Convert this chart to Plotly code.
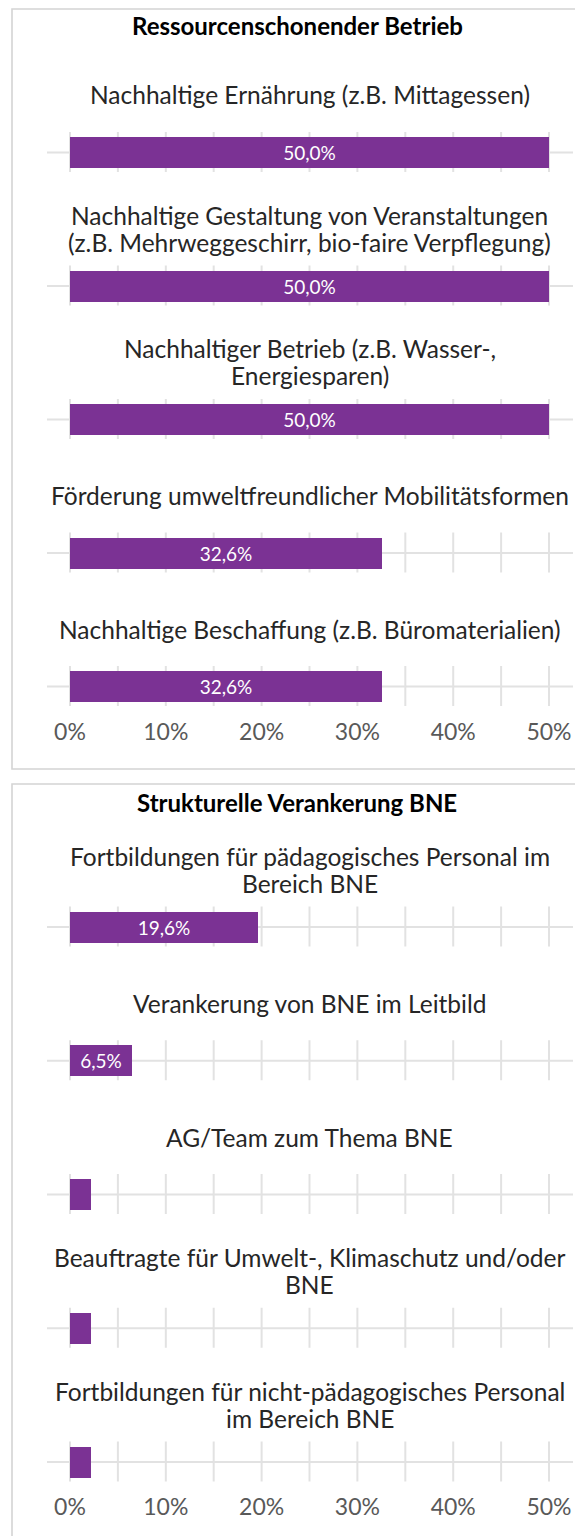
import plotly.graph_objects as go

# ---------------- data ----------------
panel1_title = "Ressourcenschonender Betrieb"
panel1_categories = [
    "Nachhaltige Ernährung (z.B. Mittagessen)",
    "Nachhaltige Gestaltung von Veranstaltungen\n(z.B. Mehrweggeschirr, bio-faire Verpflegung)",
    "Nachhaltiger Betrieb (z.B. Wasser-,\nEnergiesparen)",
    "Förderung umweltfreundlicher Mobilitätsformen",
    "Nachhaltige Beschaffung (z.B. Büromaterialien)",
]
panel1_values = [50.0, 50.0, 50.0, 32.6, 32.6]

panel2_title = "Strukturelle Verankerung BNE"
panel2_categories = [
    "Fortbildungen für pädagogisches Personal im\nBereich BNE",
    "Verankerung von BNE im Leitbild",
    "AG/Team zum Thema BNE",
    "Beauftragte für Umwelt-, Klimaschutz und/oder\nBNE",
    "Fortbildungen für nicht-pädagogisches Personal\nim Bereich BNE",
]
panel2_values = [19.6, 6.5, 2.2, 2.2, 2.2]

tick_values = [0, 10, 20, 30, 40, 50]
tick_labels = ["0%", "10%", "20%", "30%", "40%", "50%"]
grid_values = [0, 5, 10, 15, 20, 25, 30, 35, 40, 45, 50]

# ---------------- styling / geometry ----------------
OFF = 8.0                      # default body margin of the html page
W, H = 583 - 8, 1536 - 8       # figure size in px
FONT = "Lato"
BAR_COLOR = "#7B3294"
GRID_COLOR = "#E2E2E2"
BORDER_COLOR = "#D4D4D4"


def px(v):
    """screen px -> figure px"""
    return v - OFF


PX0, PX_PER = 70.0, 9.58          # screen x of 0 %, pixels per %
XDOM_PX = (40.0, 580.0)           # screen x of plot area
x_range = [(XDOM_PX[0] - PX0) / PX_PER, (XDOM_PX[1] - PX0) / PX_PER]
x_domain = [px(XDOM_PX[0]) / W, min(1.0, px(XDOM_PX[1]) / W)]
x_range[1] = x_range[0] + (x_domain[1] * W - x_domain[0] * W) / PX_PER

panels = [
    dict(title=panel1_title, cats=panel1_categories, vals=panel1_values,
         c0=152.5, step=133.5, top=80.0, bottom=716.0, title_y=25.0,
         box=(12.0, 9.0, 769.0)),
    dict(title=panel2_title, cats=panel2_categories, vals=panel2_values,
         c0=927.0, step=133.75, top=850.0, bottom=1491.0, title_y=802.0,
         box=(12.0, 784.0, 1600.0)),
]


def fmt(v):
    return f"{v:.1f}".replace(".", ",") + "%"


fig = go.Figure()
annotations = []
shapes = []

for k, p in enumerate(panels):
    sfx = "" if k == 0 else str(k + 1)
    xa, ya = "x" + sfx, "y" + sfx
    s = p["step"]
    n = len(p["cats"])
    ys = list(range(n))

    # gridlines (behind bars)
    for i in ys:
        shapes.append(dict(type="line", xref=xa, yref=ya, layer="below",
                           x0=(47 - PX0) / PX_PER, x1=(573 - PX0) / PX_PER,
                           y0=i, y1=i,
                           line=dict(color=GRID_COLOR, width=2.2)))
        for g in grid_values:
            shapes.append(dict(type="line", xref=xa, yref=ya, layer="below",
                               x0=g, x1=g, y0=i - 20.5 / s, y1=i + 19.5 / s,
                               line=dict(color=GRID_COLOR, width=2)))
    # bars
    fig.add_trace(go.Bar(
        x=p["vals"], y=ys, orientation="h", xaxis=xa, yaxis=ya,
        width=31.0 / s, marker=dict(color=BAR_COLOR, line=dict(width=0)),
        text=[fmt(v) if v >= 5 else "" for v in p["vals"]],
        textposition="inside", insidetextanchor="middle", textangle=0,
        constraintext="none",
        textfont=dict(family=FONT, size=19, color="white"),
        hoverinfo="skip", showlegend=False))

    # category labels above the bars
    for i, lab in enumerate(p["cats"]):
        lines = lab.split("\n")
        m = len(lines)
        for j, line in enumerate(lines):
            off_px = -57.5 + (j - (m - 1) / 2) * 27.0
            annotations.append(dict(
                x=25, y=i + off_px / s, xref=xa, yref=ya, text=line,
                showarrow=False, xanchor="center", yanchor="middle",
                font=dict(family=FONT, size=24.5, color="#262626")))

    # panel title
    annotations.append(dict(
        x=px(297.0) / W, y=1 - px(p["title_y"]) / H, xref="paper", yref="paper",
        text="<b>" + p["title"] + "</b>", showarrow=False,
        xanchor="center", yanchor="middle",
        font=dict(family=FONT, size=24, color="#000000")))

    # panel border
    bx, by0, by1 = p["box"]
    shapes.append(dict(type="rect", xref="paper", yref="paper",
                       x0=px(bx) / W, x1=1.05,
                       y0=1 - px(by1) / H, y1=1 - px(by0) / H,
                       line=dict(color=BORDER_COLOR, width=1.6),
                       fillcolor="rgba(0,0,0,0)", layer="below"))

    yt = (p["top"] - p["c0"]) / s
    yb = (p["bottom"] - p["c0"]) / s
    fig.update_layout({
        "xaxis" + sfx: dict(domain=x_domain, range=x_range, anchor=ya,
                            showgrid=False, zeroline=False, showline=False,
                            tickmode="array", tickvals=tick_values,
                            ticktext=tick_labels, ticks="",
                            tickfont=dict(family=FONT, size=23, color="#595959"),
                            fixedrange=True),
        "yaxis" + sfx: dict(domain=[1 - px(p["bottom"]) / H, 1 - px(p["top"]) / H],
                            range=[yb, yt], anchor=xa, showgrid=False,
                            zeroline=False, showline=False,
                            showticklabels=False, ticks="", fixedrange=True),
    })

fig.update_layout(
    width=W, height=H,
    margin=dict(l=0, r=0, t=0, b=0),
    paper_bgcolor="white", plot_bgcolor="rgba(0,0,0,0)",
    font=dict(family=FONT),
    annotations=annotations, shapes=shapes,
    bargap=0, showlegend=False,
)

fig.write_html("out.html")
